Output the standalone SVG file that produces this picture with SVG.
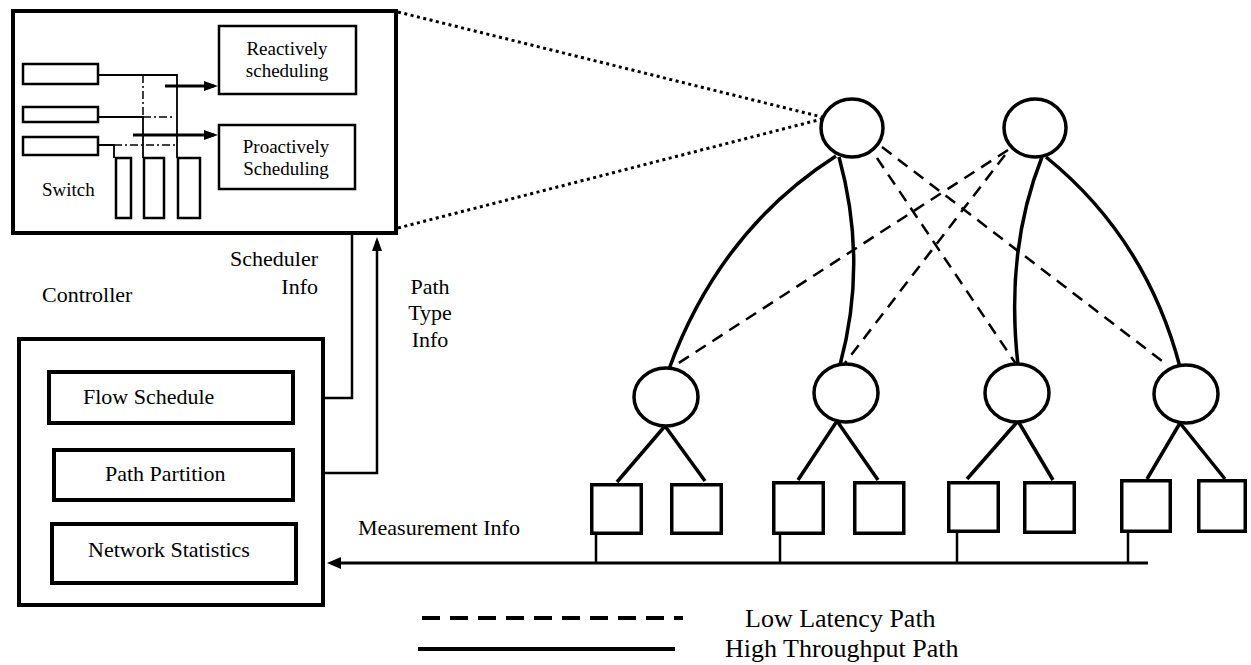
<svg xmlns="http://www.w3.org/2000/svg" width="1251" height="665" viewBox="0 0 1251 665">
<style>
  text { font-family: "Liberation Serif", "DejaVu Serif", serif; fill: #000; }
  .t19 { font-size: 19px; }
  .t22 { font-size: 22px; }
  .t26 { font-size: 26px; }
  .box { fill: #fff; stroke: #000; }
  .thick { stroke-width: 4; }
  .med { stroke-width: 3; }
  .thin { stroke-width: 2.5; }
  .ln { fill: none; stroke: #000; }
  .dd { fill: none; stroke: #000; stroke-width: 1.5; stroke-dasharray: 8 3 2 3; }
  .node { fill: #fff; stroke: #000; stroke-width: 3.5; }
  .solid { fill: none; stroke: #000; stroke-width: 3.5; }
  .dash { fill: none; stroke: #000; stroke-width: 2.5; stroke-dasharray: 12 8; }
  .dot { fill: none; stroke: #000; stroke-width: 3; stroke-dasharray: 3 3.5; }
</style>
<defs>
  <marker id="ah" viewBox="0 0 14 10" refX="10" refY="5" markerWidth="14" markerHeight="10" markerUnits="userSpaceOnUse" orient="auto">
    <path d="M0,0 L14,5 L0,10 z" fill="#000"/>
  </marker>
  <marker id="ahs" viewBox="0 0 14 12" refX="10" refY="6" markerWidth="14" markerHeight="12" markerUnits="userSpaceOnUse" orient="auto">
    <path d="M0,0 L14,6 L0,12 z" fill="#000"/>
  </marker>
</defs>
<rect width="1251" height="665" fill="#fff"/>

<g id="connectors">
  <!-- dotted zoom lines -->
  <path class="dot" d="M398,12 L822,117"/>
  <path class="dot" d="M398,228 L822,119"/>
  <!-- scheduler info / path type info -->
  <polyline class="ln thin" points="295,398 352,398 352,195" marker-end="url(#ah)"/>
  <polyline class="ln thin" points="295,473 377,473 377,241" marker-end="url(#ah)"/>
  <!-- measurement bus -->
  <path class="ln med" d="M1148,563 L331,563" marker-end="url(#ahs)"/>
  <path class="ln thin" d="M596,535 V563 M780,535 V563 M957,533 V563 M1128,533 V563"/>
  <!-- high throughput (solid) -->
  <path class="solid" d="M836,156 Q720,230 669,369"/>
  <path class="solid" d="M839,157 Q868,262 840,365"/>
  <path class="solid" d="M1042,157 Q1005,250 1018,365"/>
  <path class="solid" d="M1046,157 Q1146,238 1180,367"/>
  <!-- low latency (dashed) -->
  <path class="dash" d="M877,158 L1016,364"/>
  <path class="dash" d="M882,147 L1166,364"/>
  <path class="dash" d="M1008,150 L671,368"/>
  <path class="dash" d="M1005,155 L845,363"/>
  <!-- tree links -->
  <path class="solid" d="M665,426 L617,482 M665,426 L705,481"/>
  <path class="solid" d="M837,421 L798,480 M837,421 L878,480"/>
  <path class="solid" d="M1018,421 L967,479 M1018,421 L1053,480"/>
  <path class="solid" d="M1180,423 L1147,479 M1180,423 L1225,479"/>
</g>

<g id="controller-top">
  <rect class="box thick" x="13" y="11" width="383" height="222"/>
  <g id="switch">
    <rect class="box thin" x="23" y="64" width="75" height="20"/>
    <rect class="box thin" x="23" y="107" width="75" height="15"/>
    <rect class="box thin" x="23" y="137" width="75" height="18"/>
    <rect class="box thin" x="116" y="158" width="15" height="60"/>
    <rect class="box thin" x="144" y="158" width="20" height="60"/>
    <rect class="box thin" x="178" y="158" width="22" height="60"/>
    <polyline class="ln" stroke-width="1.8" points="98,75 177,75 177,158"/>
    <polyline class="ln" stroke-width="1.8" points="98,117 143,117 143,158"/>
    <path class="dd" d="M143,117 H175 M143,75 V117"/>
    <polyline class="ln" stroke-width="1.8" points="98,145 114,145 114,158"/>
    <path class="dd" d="M114,145 H175"/>
    <path class="ln med" d="M165,86 H214" marker-end="url(#ah)"/>
    <path class="ln med" d="M133,135 H214" marker-end="url(#ah)"/>
    <text class="t19" x="42" y="196">Switch</text>
  </g>
  <g id="reactive">
    <rect class="box thin" x="219" y="26" width="137" height="68"/>
    <text class="t19" x="287" y="55" text-anchor="middle">Reactively</text>
    <text class="t19" x="287" y="77" text-anchor="middle">scheduling</text>
  </g>
  <g id="proactive">
    <rect class="box thin" x="219" y="125" width="136" height="64"/>
    <text class="t19" x="286" y="153" text-anchor="middle">Proactively</text>
    <text class="t19" x="286" y="175" text-anchor="middle">Scheduling</text>
  </g>
</g>

<g id="labels">
  <text class="t22" x="42" y="302">Controller</text>
  <text class="t22" x="318" y="266" text-anchor="end">Scheduler</text>
  <text class="t22" x="318" y="294" text-anchor="end">Info</text>
  <text class="t22" x="430" y="294" text-anchor="middle">Path</text>
  <text class="t22" x="430" y="320" text-anchor="middle">Type</text>
  <text class="t22" x="430" y="347" text-anchor="middle">Info</text>
  <text class="t22" x="358" y="535">Measurement Info</text>
</g>

<g id="controller-bottom">
  <rect class="box thick" x="19" y="339" width="304" height="266"/>
  <g id="flow-schedule">
    <rect class="box thick" x="49" y="372" width="244" height="51"/>
    <text class="t22" x="83" y="404">Flow Schedule</text>
  </g>
  <g id="path-partition">
    <rect class="box thick" x="54" y="450" width="239" height="50"/>
    <text class="t22" x="105" y="481">Path Partition</text>
  </g>
  <g id="network-statistics">
    <rect class="box thick" x="52" y="524" width="244" height="59"/>
    <text class="t22" x="88" y="557">Network Statistics</text>
  </g>
</g>

<g id="core">
  <ellipse id="core1" class="node" cx="852" cy="128" rx="31" ry="29"/>
  <ellipse id="core2" class="node" cx="1035" cy="128" rx="31" ry="29"/>
</g>
<g id="aggregation">
  <ellipse id="agg1" class="node" cx="666" cy="397" rx="32" ry="29"/>
  <ellipse id="agg2" class="node" cx="846" cy="393" rx="32" ry="29"/>
  <ellipse id="agg3" class="node" cx="1017" cy="393" rx="32" ry="29"/>
  <ellipse id="agg4" class="node" cx="1186" cy="394" rx="32" ry="29"/>
</g>
<g id="hosts">
  <rect id="h1" class="node" x="591.75" y="484.75" width="49.5" height="48.5"/>
  <rect id="h2" class="node" x="671.75" y="484.75" width="49.5" height="48.5"/>
  <rect id="h3" class="node" x="773.75" y="482.75" width="49.5" height="50.5"/>
  <rect id="h4" class="node" x="854.75" y="482.75" width="49" height="50.5"/>
  <rect id="h5" class="node" x="948.75" y="482.75" width="49.5" height="48.5"/>
  <rect id="h6" class="node" x="1024.75" y="482.75" width="49.5" height="49.5"/>
  <rect id="h7" class="node" x="1121.75" y="480.75" width="48.5" height="50.5"/>
  <rect id="h8" class="node" x="1198.75" y="480.75" width="46.5" height="50.5"/>
</g>

<g id="legend">
  <path class="ln" stroke-width="4" stroke-dasharray="18 10" d="M422,618 H683"/>
  <path class="ln" stroke-width="4" d="M418,649 H675"/>
  <text class="t26" x="745" y="627">Low Latency Path</text>
  <text class="t26" x="725" y="657">High Throughput Path</text>
</g>
</svg>
